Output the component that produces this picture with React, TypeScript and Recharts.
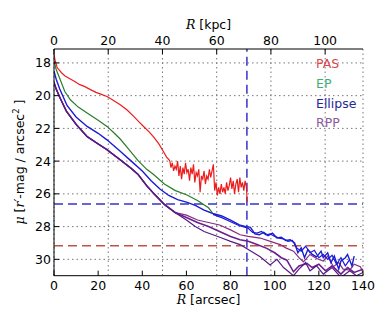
import { LineChart, Line, XAxis, YAxis, CartesianGrid, ReferenceLine, Legend } from 'recharts';

const ARCSEC_TICKS = [0, 20, 40, 60, 80, 100, 120, 140];
const KPC_TICKS = [0, 20, 40, 60, 80, 100];
const MU_TICKS = [18, 20, 22, 24, 26, 28, 30];
const KPC_PER_ARCSEC = 0.814;

// limits drawn as dashed lines
const LIMIT_R = 87.4;
const ELLIPSE_LIMIT_MU = 26.62;
const PAS_LIMIT_MU = 29.17;

const PAS_R = [
  0, 0.6, 1.5, 3.4, 5, 7, 9, 11.7, 14, 16.5, 19, 21.5, 24, 27, 30, 33, 36, 38.5, 40.7, 43, 45.3, 47.5, 49.5, 51, 52,
  52.5, 53, 53.6, 54.2, 54.8, 55.4, 56, 56.6, 57.2, 57.8, 58.4, 59, 59.6, 60.2, 60.8, 61.4, 62, 62.6, 63.2, 63.8,
  64.4, 65, 65.6, 66.2, 66.8, 67.4, 68, 68.6, 69.2, 69.8, 70.4, 71, 71.6, 72.2, 72.8, 73.4, 74, 74.6, 75.2, 75.8,
  76.4, 77, 77.6, 78.2, 78.8, 79.4, 80, 80.6, 81.2, 81.8, 82.4, 83, 83.6, 84.2, 84.8, 85.4, 86, 86.6, 87.2, 87.5,
];
const PAS_MU = [
  17.5, 17.9, 18.3, 18.6, 18.8, 18.95, 19.1, 19.33, 19.45, 19.63, 19.8, 19.92, 20.05, 20.3, 20.55, 20.86, 21.25, 21.6,
  21.9, 22.2, 22.55, 22.95, 23.4, 23.75, 23.9,
  24.0, 24.4, 24.1, 24.6, 24.3, 24.5, 24.0, 24.9, 24.3, 25.1, 24.4, 24.8, 24.1, 24.7, 24.5, 25.2, 24.4, 24.8, 24.2, 25.3,
  24.7, 24.9, 24.5, 25.9, 24.9, 25.1, 24.6, 25.4, 24.9, 25.1, 24.5, 25.0, 24.6, 24.2, 25.8, 25.3, 26.1, 25.6, 26.0, 25.4,
  25.9, 25.6, 26.0, 25.3, 25.8, 25.5, 25.0, 25.7, 25.2, 26.0, 25.4, 25.1, 25.9, 25.0, 25.6, 25.3, 25.8, 25.2, 25.6, 26.5,
];

const EP_R = [0, 1, 2.6, 4.9, 7.4, 11, 15, 20, 24, 27, 30, 34, 38, 42, 45, 50, 55, 60, 65, 70, 72];
const EP_MU = [
  17.9, 18.4, 18.95, 19.75, 20.25, 20.7, 21.06, 21.5, 21.88, 22.25, 22.65, 23.3, 23.95, 24.5, 24.8, 25.4, 25.8, 26.05,
  26.4, 26.85, 27.2,
];

const ELLIPSE_R = [
  0, 1, 2.6, 5.9, 10, 15, 20, 24, 30, 35, 40, 44, 48, 52, 56, 60, 64, 68, 72, 76, 80, 84, 87, 89, 91, 93, 95, 97, 99,
  101, 103, 105, 107, 109, 110.5, 112, 113.5, 115, 117, 119, 121, 122, 124, 125.5, 127, 129, 130, 132, 133, 135, 136,
];
const ELLIPSE_MU = [
  18.5, 19.0, 19.6, 20.6, 21.3, 21.88, 22.3, 22.7, 23.4, 24.0, 24.6, 25.2, 25.7, 26.1, 26.35, 26.5, 26.7, 27.0, 27.2,
  27.35, 27.6, 27.9, 28.0, 28.05, 28.45, 28.5, 28.35, 28.55, 28.4, 28.7, 28.65, 28.85, 28.8, 29.0, 29.6, 29.3, 29.9,
  29.4, 29.7, 29.85, 29.5, 29.9, 29.6, 30.2, 29.8, 30.6, 30.1, 29.9, 29.7, 30.4, 29.8,
];
const ELLIPSE_B_R = [
  72, 76, 80, 84, 88, 90, 92, 94, 96, 98, 100, 102, 104, 106, 108, 110, 112, 114, 116, 118, 120, 122, 124, 126, 128,
  130, 132, 134,
];
const ELLIPSE_B_MU = [
  27.25, 27.45, 27.7, 27.95, 28.1, 28.35, 28.4, 28.3, 28.5, 28.45, 28.6, 28.7, 28.75, 28.9, 28.85, 29.3, 29.5, 29.2,
  29.6, 29.45, 29.9, 29.7, 30.0, 29.75, 30.3, 29.9, 30.4, 30.0,
];

// RPP: inner profile shared, three outer branches
const RPP_INNER_R = [0, 1, 2.6, 5.6, 10, 15, 20, 24, 30, 35, 38, 42, 45, 50, 55];
const RPP_INNER_MU = [19.2, 19.6, 20.1, 20.95, 21.75, 22.5, 22.95, 23.3, 23.92, 24.45, 24.8, 25.5, 25.95, 26.65, 27.15];
const RPP_A_R = [60, 65, 70, 75, 80, 84.3, 88, 93.4, 98, 102.5, 105, 108.5, 111, 113, 116, 119, 122, 124, 126.6, 129, 131, 134, 136, 138.8, 140];
const RPP_A_MU = [27.3, 27.6, 27.75, 27.9, 28.2, 28.5, 28.6, 28.7, 28.9, 29.1, 29.3, 29.5, 29.9, 30.15, 29.7, 29.95, 30.1, 29.8, 30.45, 30.2, 30.6, 30.66, 30.3, 30.45, 30.8];
const RPP_B_R = [60, 65, 70, 75, 80, 84.3, 88, 92, 96.4, 100, 103, 105.5, 108.5, 111, 114.6, 117, 120, 123, 126, 130, 133, 136, 140];
const RPP_B_MU = [27.45, 27.75, 28.0, 28.3, 28.6, 28.8, 28.9, 29.1, 29.33, 29.6, 29.9, 30.05, 30.76, 30.4, 30.25, 30.5, 30.3, 30.7, 30.4, 30.9, 30.5, 30.8, 30.6];
const RPP_C_R = [60, 64, 68, 72, 76, 80, 84.3, 88, 93.4, 97.9, 101, 104, 108.5, 111, 114, 116, 119, 122, 126, 130, 134, 137, 140];
const RPP_C_MU = [27.6, 28.0, 28.3, 28.5, 28.7, 28.9, 29.1, 29.4, 29.84, 30.35, 30.0, 30.5, 31.0, 30.6, 30.2, 30.7, 30.4, 30.9, 30.5, 31.1, 30.7, 31.0, 30.8];

const zip = (r: number[], mu: number[]) => r.map((x, i) => ({ r: x, mu: mu[i] }));

const LEGEND = [
  { name: 'PAS', color: '#d9474f' },
  { name: 'EP', color: '#3fae72' },
  { name: 'Ellipse', color: '#26269a' },
  { name: 'RPP', color: '#8a5a9e' },
];

const FONT = '"DejaVu Sans", sans-serif';
const tickStyle = { fill: '#000', fontSize: 12.5, fontFamily: FONT };

function BottomLabel({ viewBox }: any) {
  const cx = viewBox.x + viewBox.width / 2;
  return (
    <text x={cx} y={304} textAnchor="middle" fontSize={12.5} fontFamily={FONT} fill="#000">
      <tspan fontFamily='"DejaVu Serif", serif' fontStyle="italic">R</tspan> [arcsec]
    </text>
  );
}

function TopLabel({ viewBox }: any) {
  const cx = viewBox.x + viewBox.width / 2;
  return (
    <text x={cx} y={29} textAnchor="middle" fontSize={12.5} fontFamily={FONT} fill="#000">
      <tspan fontFamily='"DejaVu Serif", serif' fontStyle="italic">R</tspan> [kpc]
    </text>
  );
}

function MuLabel() {
  return (
    <text x={0} y={0} transform="translate(24,162) rotate(-90)" textAnchor="middle" fontSize={12.5} fontFamily={FONT} fill="#000">
      <tspan fontFamily='"DejaVu Serif", serif' fontStyle="italic">μ</tspan> [
      <tspan fontFamily='"DejaVu Serif", serif' fontStyle="italic">r′</tspan>-mag / arcsec
      <tspan dy={-5} fontSize={8.5}>2</tspan>
      <tspan dy={5}> ]</tspan>
    </text>
  );
}

function LegendBox() {
  return (
    <div style={{ fontFamily: FONT, fontSize: 12.5, lineHeight: '19.8px' }}>
      {LEGEND.map((s) => (
        <div key={s.name} style={{ color: s.color }}>{s.name}</div>
      ))}
    </div>
  );
}

export default function App() {
  const line = (key: string, data: any[], color: string, extra: any = {}) => (
    <Line
      key={key}
      data={data}
      dataKey="mu"
      type="linear"
      dot={false}
      activeDot={false}
      stroke={color}
      strokeWidth={1.2}
      isAnimationActive={false}
      xAxisId="bottom"
      yAxisId="left"
      {...extra}
    />
  );

  return (
    <div style={{ position: 'absolute', left: 0, top: 0, width: 390, height: 325, background: '#fff' }}>
      <LineChart width={390} height={325} margin={{ top: 20, right: 27, bottom: 20, left: 0 }} style={{ fontFamily: FONT }}>
        <CartesianGrid
          xAxisId="top"
          yAxisId="left"
          stroke="#777"
          strokeDasharray="1.5 3"
          horizontalValues={MU_TICKS}
        />
        <XAxis
          xAxisId="bottom"
          dataKey="r"
          type="number"
          domain={[0, 140]}
          allowDataOverflow
          ticks={ARCSEC_TICKS}
          height={29.3}
          tick={tickStyle}
          tickSize={-5}
          tickMargin={10.5}
          stroke="#000"
          label={(p: any) => <BottomLabel {...p} />}
        />
        <XAxis
          xAxisId="top"
          orientation="top"
          dataKey="r"
          type="number"
          domain={[0, 140]}
          allowDataOverflow
          ticks={KPC_TICKS.map((k) => k / KPC_PER_ARCSEC)}
          tickFormatter={(v: number) => String(Math.round(v * KPC_PER_ARCSEC))}
          height={29}
          tick={tickStyle}
          tickSize={-5}
          tickMargin={9.5}
          stroke="#000"
          label={(p: any) => <TopLabel {...p} />}
        />
        <YAxis
          yAxisId="left"
          type="number"
          domain={[17.15, 31]}
          reversed
          allowDataOverflow
          ticks={MU_TICKS}
          width={54}
          tick={tickStyle}
          tickSize={-5}
          tickMargin={8}
          stroke="#000"
          label={() => <MuLabel />}
        />
        <YAxis
          yAxisId="right"
          orientation="right"
          type="number"
          domain={[17.15, 31]}
          reversed
          allowDataOverflow
          ticks={MU_TICKS}
          width={0}
          tick={false}
          tickSize={-5}
          stroke="#000"
        />
        <ReferenceLine xAxisId="bottom" yAxisId="left" x={LIMIT_R} stroke="#3434c8" strokeWidth={1.5} strokeDasharray="9 5" />
        <ReferenceLine xAxisId="bottom" yAxisId="left" y={ELLIPSE_LIMIT_MU} stroke="#3434c8" strokeWidth={1.5} strokeDasharray="9 5" />
        <ReferenceLine xAxisId="bottom" yAxisId="left" y={PAS_LIMIT_MU} stroke="#bf5546" strokeWidth={1.5} strokeDasharray="9 5" />
        {line('rppA', zip([...RPP_INNER_R, ...RPP_A_R], [...RPP_INNER_MU, ...RPP_A_MU]), '#8a2c7e')}
        {line('rppB', zip([...RPP_INNER_R, ...RPP_B_R], [...RPP_INNER_MU, ...RPP_B_MU]), '#6c2090', { strokeWidth: 1.6 })}
        {line('rppC', zip([...RPP_INNER_R, ...RPP_C_R], [...RPP_INNER_MU, ...RPP_C_MU]), '#561a86')}
        {line('ellB', zip(ELLIPSE_B_R, ELLIPSE_B_MU), '#1b1bd6')}
        {line('ell', zip(ELLIPSE_R, ELLIPSE_MU), '#1b1bd6', { strokeWidth: 1.4 })}
        {line('ep', zip(EP_R, EP_MU), '#2a7d2a', { yAxisId: 'right' })}
        {line('pas', zip(PAS_R, PAS_MU), '#ec1c1c', { xAxisId: 'top' })}
        <Legend
          layout="vertical"
          align="center"
          verticalAlign="middle"
          content={() => <LegendBox />}
          wrapperStyle={{ left: 316, top: 54, width: 'auto', height: 'auto' }}
        />
      </LineChart>
    </div>
  );
}
